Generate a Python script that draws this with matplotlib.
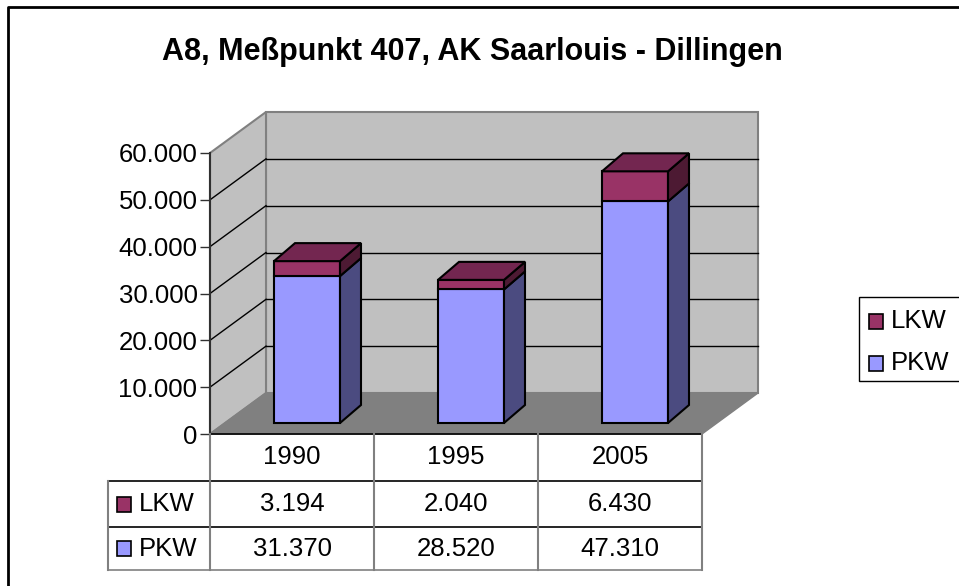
#!/usr/bin/env python3
import matplotlib
matplotlib.use('Agg')
import matplotlib.pyplot as plt
from matplotlib.patches import Polygon, Rectangle
from matplotlib.lines import Line2D

plt.rcParams['font.family'] = ['Liberation Sans', 'DejaVu Sans']

title = 'A8, Meßpunkt 407, AK Saarlouis - Dillingen'
years = ['1990', '1995', '2005']
series = ['LKW', 'PKW']
lkw = [3194, 2040, 6430]
pkw = [31370, 28520, 47310]
yticks = [0, 10000, 20000, 30000, 40000, 50000, 60000]

W, H = 959, 586
fig = plt.figure(figsize=(W / 100, H / 100), dpi=100)

# front plane of the pseudo 3D box in pixels
x0, x1, ybot, ytop = 210, 702, 434, 153
ax = fig.add_axes([x0 / W, (H - ybot) / H, (x1 - x0) / W, (ybot - ytop) / H])
ax.set_xlim(0, 3)
ax.set_ylim(0, 60000)
for s in ax.spines.values():
    s.set_visible(False)
ax.patch.set_visible(False)

sx = 3.0 / (x1 - x0)          # data per pixel
sy = 60000.0 / (ybot - ytop)
dx, dy = 56 * sx, 41 * sy     # wall depth
fx, fy = 15 * sx, 11 * sy     # bar front offset
bx, by = 21 * sx, 18 * sy     # bar depth
bw = 66 * sx

wall = '#C0C0C0'
edge = '#808080'
kw = dict(clip_on=False)

# back wall, side wall, floor
ax.add_patch(Polygon([(dx, dy), (3 + dx, dy), (3 + dx, 60000 + dy), (dx, 60000 + dy)],
                     fc=wall, ec=edge, lw=1.5, **kw))
ax.add_patch(Polygon([(0, 0), (dx, dy), (dx, 60000 + dy), (0, 60000)],
                     fc=wall, ec=edge, lw=1.5, **kw))
ax.add_patch(Polygon([(0, 0), (3, 0), (3 + dx, dy), (dx, dy)],
                     fc='#808080', ec='#808080', lw=1, **kw))
for t in yticks[1:-1]:
    ax.plot([dx, 3 + dx], [t + dy, t + dy], color='black', lw=1, **kw)
    ax.plot([0, dx], [t, t + dy], color='black', lw=1, **kw)

# bars
faces = {'PKW': ('#9999FF', '#4B4B80', '#7A7ACC'),
         'LKW': ('#993366', '#4D1A33', '#732650')}
for i in range(len(years)):
    left = i + 0.5 - bw / 2 + fx
    right = left + bw
    bottom = fy
    for name, h in (('PKW', pkw[i]), ('LKW', lkw[i])):
        front, side, top = faces[name]
        t = bottom + h
        ax.add_patch(Polygon([(left, bottom), (right, bottom), (right, t), (left, t)],
                             fc=front, ec='black', lw=1.5, zorder=3, **kw))
        ax.add_patch(Polygon([(right, bottom), (right + bx, bottom + by),
                              (right + bx, t + by), (right, t)],
                             fc=side, ec='black', lw=1.5, zorder=3, **kw))
        bottom = t
    ax.add_patch(Polygon([(left, bottom), (right, bottom), (right + bx, bottom + by),
                          (left + bx, bottom + by)],
                         fc=faces['LKW'][2], ec='black', lw=1.5, zorder=4, **kw))

# y axis
ax.plot([0, 0], [0, 60000], color='#303030', lw=1.5, **kw)
ax.set_xticks([])
ax.set_yticks(yticks)
ax.set_yticklabels([f'{v:,}'.replace(',', '.') for v in yticks], fontsize=18.5)
ax.tick_params(axis='y', length=7, width=1, color='#303030', pad=2)

# data table
def fx_(px):
    return px / W

def fy_(py):
    return 1 - py / H

def hline(xa, xb, y, c='black', lw=1.2):
    fig.add_artist(Line2D([fx_(xa), fx_(xb)], [fy_(y), fy_(y)], color=c, lw=lw))

def vline(x, ya, yb, c='#808080', lw=1.5):
    fig.add_artist(Line2D([fx_(x), fx_(x)], [fy_(ya), fy_(yb)], color=c, lw=lw))

rows = [434, 481, 527, 570]
left_tab = 108
colw = (x1 - x0) / 3
hline(x0, x1, rows[0])
hline(left_tab, x1, rows[1])
hline(left_tab, x1, rows[2])
hline(left_tab, x1, rows[3], c='#808080')
vline(left_tab, rows[1], rows[3])
for k in range(4):
    vline(x0 + k * colw, rows[0], rows[3])

for k, y in enumerate(years):
    fig.text(fx_(x0 + (k + 0.5) * colw), fy_((rows[0] + rows[1]) / 2), y,
             ha='center', va='center', fontsize=18.5)
for r, (name, vals) in enumerate((('LKW', lkw), ('PKW', pkw))):
    yc = (rows[r + 1] + rows[r + 2]) / 2
    fig.add_artist(Rectangle((fx_(117), fy_(yc + 7.5)), 14 / W, 15 / H,
                             fc=faces[name][0], ec='black', lw=1.2))
    fig.text(fx_(139), fy_(yc), name, ha='left', va='center', fontsize=18.5)
    for k, v in enumerate(vals):
        fig.text(fx_(x0 + (k + 0.5) * colw), fy_(yc), f'{v:,}'.replace(',', '.'),
                 ha='center', va='center', fontsize=18.5)

# legend
fig.add_artist(Rectangle((fx_(859), fy_(381)), (W - 859 + 10) / W, 84 / H,
                         fc='white', ec='black', lw=1))
for name, yc in (('LKW', 321), ('PKW', 363)):
    fig.add_artist(Rectangle((fx_(869), fy_(yc + 7.5)), 14 / W, 15 / H,
                             fc=faces[name][0], ec='black', lw=1.2))
    fig.text(fx_(891), fy_(yc), name, ha='left', va='center', fontsize=18.5)

# title and outer frame
fig.text(fx_(472), fy_(52), title, ha='center', va='center', fontsize=22,
         fontweight='bold')
fig.add_artist(Line2D([fx_(8), fx_(8), 1], [0, fy_(7), fy_(7)], color='black', lw=2))

fig.savefig('out.png', dpi=100)
